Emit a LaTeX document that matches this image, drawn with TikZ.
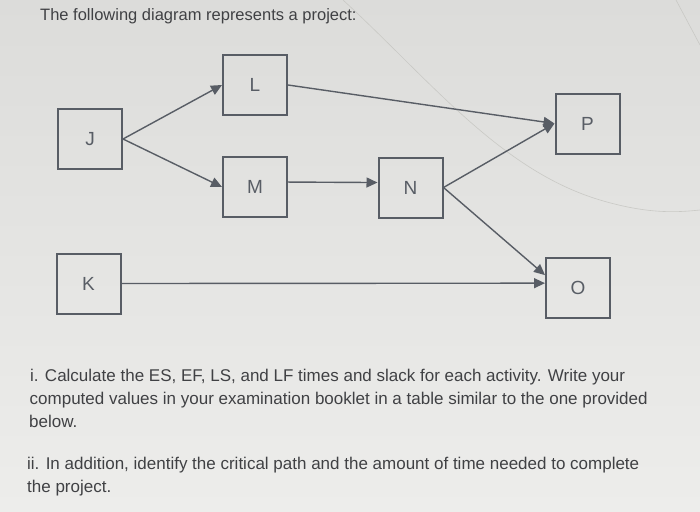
\documentclass[tikz,border=0pt]{standalone}
\usepackage{fontspec}
\setmainfont{Liberation Sans}
\usetikzlibrary{arrows.meta,calc}
\definecolor{lineg}{HTML}{585D65}
\definecolor{txtg}{HTML}{404144}
\definecolor{bgtop}{HTML}{DCDCDA}
\definecolor{bgbot}{HTML}{EDEDEB}
\definecolor{artif}{HTML}{C9C9C5}
\tikzset{
  actbox/.style={draw=lineg, line width=2pt, fill=none, minimum width=64pt, minimum height=60pt, inner sep=0pt, text=lineg, font=\fontsize{19}{21}\selectfont},
  conn/.style={draw=lineg, line width=1.4pt, -{Triangle[length=11pt,width=10pt]}},
  txt/.style={anchor=base west, inner sep=0pt, text=txtg, font=\fontsize{17}{19}\selectfont},
}
\begin{document}
\begin{tikzpicture}[x=1pt,y=-1pt]
\shade[top color=bgtop, bottom color=bgbot] (0,0) rectangle (700,511);
\useasboundingbox (0,0) rectangle (700,511);
% faint photo artifacts
\draw[artif, line width=0.6pt] (343,0) .. controls (430,80) and (500,170) .. (600,200) .. controls (650,215) and (680,212) .. (700,210);
\draw[artif, line width=0.6pt] (676,0) -- (700,45);
% title
\node[txt, font=\fontsize{16.5}{18}\selectfont] (title) at (40,21) {The following diagram represents a project:};
% activities
\node[actbox] (J) at (90,139) {J};
\node[actbox] (L) at (255,85) {L};
\node[actbox] (M) at (255,187) {M};
\node[actbox] (N) at (410.5,187.5) {N};
\node[actbox] (P) at (587.5,123.5) {P};
\node[actbox] (K) at (88.5,283.5) {K};
\node[actbox] (O) at (578,287.5) {O};
% connectors
\draw[conn] (J.east) -- (L.west);
\draw[conn] (J.east) -- (M.west);
\draw[conn] (L.east) -- (P.west);
\draw[conn] ($(M.north east)!0.42!(M.south east)$) -- ($(N.north west)!0.42!(N.south west)$);
\draw[conn] (N.east) -- (P.west);
\draw[conn] (N.east) -- ($(O.north west)!0.3!(O.south west)$);
\draw[conn] (K.east) -- ($(O.north west)!0.43!(O.south west)$);
% question text
\node[txt] (q1) at (30,381) {i. Calculate the ES, EF, LS, and LF times and slack for each activity. Write your};
\node[txt] (q2) at (29.5,404) {computed values in your examination booklet in a table similar to the one provided};
\node[txt] (q3) at (29,427) {below.};
\node[txt] (q4) at (27,469) {ii. In addition, identify the critical path and the amount of time needed to complete};
\node[txt] (q5) at (27,492) {the project.};
\end{tikzpicture}
\end{document}
